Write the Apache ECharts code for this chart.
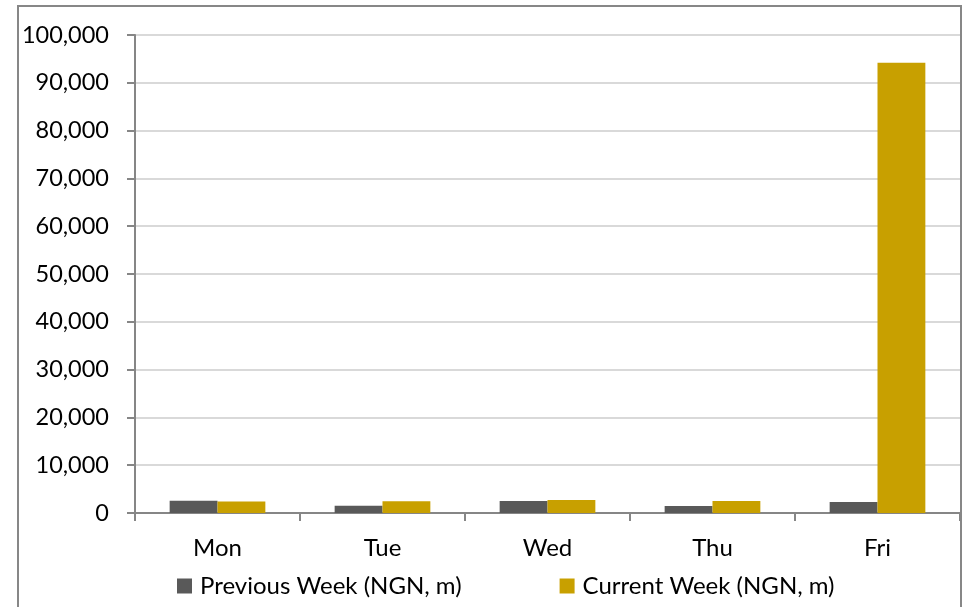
<!DOCTYPE html>
<html>
<head>
<meta charset="utf-8">
<script src="https://cdn.jsdelivr.net/npm/echarts@6/dist/echarts.min.js"></script>
<style>
  html, body { margin: 0; padding: 0; background: #fff; }
  #chart { width: 962px; height: 607px; }
</style>
</head>
<body>
<div id="chart"></div>
<script>
// Daily values, NGN millions
const days = ['Mon', 'Tue', 'Wed', 'Thu', 'Fri'];
const previousWeek = [2570, 1530, 2500, 1460, 2300];
const currentWeek = [2430, 2450, 2720, 2500, 94200];
const seriesNames = ['Previous Week (NGN, m)', 'Current Week (NGN, m)'];

const FONT = 'Lato';
const chart = echarts.init(document.getElementById('chart'), null, { renderer: 'canvas' });

chart.setOption({
  animation: false,
  backgroundColor: '#ffffff',
  textStyle: { fontFamily: FONT },
  graphic: [{
    type: 'rect',
    shape: { x: 18, y: 6, width: 943, height: 620 },
    style: { fill: 'none', stroke: '#878787', lineWidth: 2 },
    silent: true,
    z: 100
  }],
  grid: { left: 135, right: 2, top: 35, bottom: 94, containLabel: false },
  legend: {
    top: 569,
    left: 172,
    itemWidth: 15,
    itemHeight: 15,
    itemGap: 98,
    icon: 'rect',
    textStyle: { fontFamily: FONT, fontSize: 24, color: '#000', padding: [0, 0, 0, 3] },
    data: seriesNames
  },
  xAxis: {
    type: 'category',
    data: days,
    axisLine: { lineStyle: { color: '#868686', width: 2 } },
    axisTick: { show: true, length: 8, lineStyle: { color: '#868686', width: 2 } },
    axisLabel: { color: '#000', fontFamily: FONT, fontSize: 24, margin: 23 }
  },
  yAxis: {
    type: 'value',
    min: 0,
    max: 100000,
    interval: 10000,
    axisLine: { show: true, lineStyle: { color: '#868686', width: 2 } },
    axisTick: { show: true, length: 8, lineStyle: { color: '#868686', width: 2 } },
    splitLine: { lineStyle: { color: '#d9d9d9', width: 2 } },
    axisLabel: {
      color: '#000', fontFamily: FONT, fontSize: 23.5, margin: 26,
      formatter: v => v.toLocaleString('en-US')
    }
  },
  series: [
    {
      name: seriesNames[0], type: 'bar', data: previousWeek,
      itemStyle: { color: '#595959' },
      barGap: '0%', barCategoryGap: '42%'
    },
    {
      name: seriesNames[1], type: 'bar', data: currentWeek,
      itemStyle: { color: '#C8A000' },
      barGap: '0%', barCategoryGap: '42%'
    }
  ]
});
</script>
</body>
</html>
